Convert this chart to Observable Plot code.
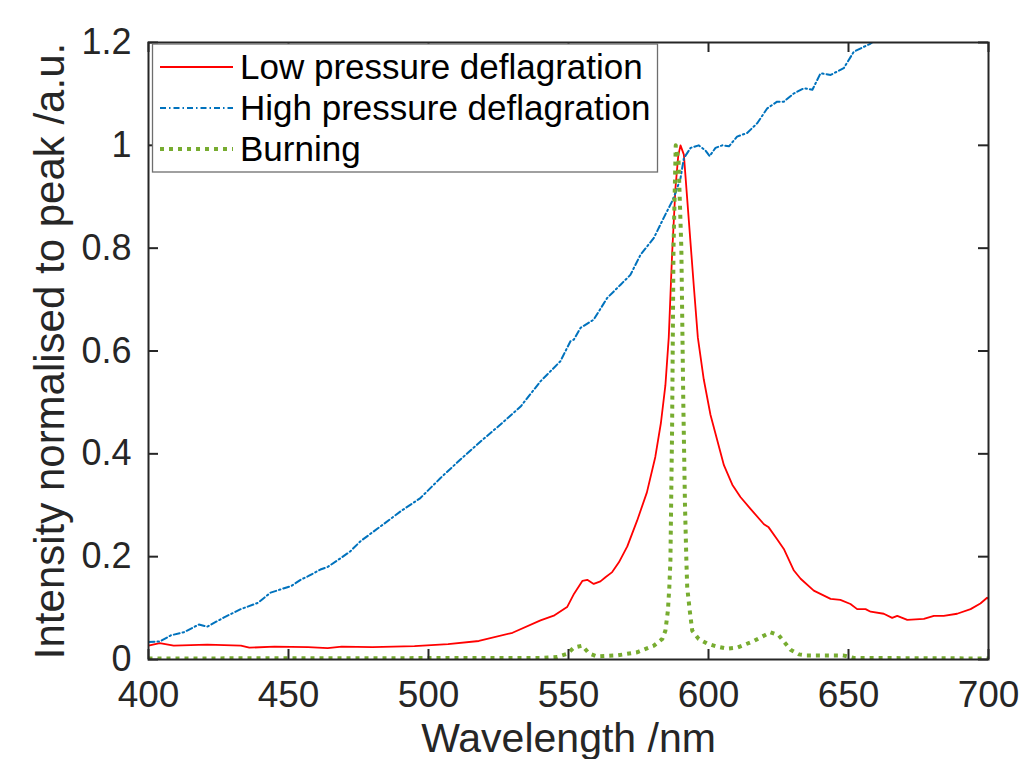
<!DOCTYPE html>
<html><head><meta charset="utf-8">
<script src="https://cdn.jsdelivr.net/npm/d3@7"></script>
<script src="https://cdn.jsdelivr.net/npm/@observablehq/plot@0.6"></script>
<style>body{margin:0;background:#fff;} #chart{position:relative;width:1021px;height:759px;}</style>
</head><body><div id="chart"></div>
<script>
// Low pressure deflagration
const lowX = [400,404,409,421,433,436,445,457,464,469,480,495,507,518,530,540,545,549.5,552,555,556.7,559,561.4,563.2,565.6,568,571,574.5,578,581,583,584.6,585.8,587,588.2,589.2,590,591.2,593,594.8,596.2,598.3,600.7,603.1,605.5,608.5,611.4,615,619.8,621.5,624.5,626.9,630.5,632.9,637.6,643.6,647.1,650.7,653.1,656.1,657.9,662.6,665.6,667.4,671,676.9,680.5,684,688.8,693.6,697.1,699.5,700];
const lowY = [0.027,0.032,0.027,0.029,0.027,0.023,0.025,0.024,0.022,0.025,0.024,0.026,0.030,0.036,0.052,0.076,0.086,0.102,0.128,0.153,0.155,0.147,0.152,0.160,0.170,0.189,0.220,0.270,0.325,0.394,0.460,0.533,0.626,0.788,0.917,0.980,1.000,0.982,0.852,0.723,0.626,0.545,0.476,0.427,0.378,0.340,0.316,0.293,0.263,0.257,0.234,0.215,0.173,0.157,0.134,0.118,0.116,0.108,0.098,0.098,0.093,0.089,0.081,0.085,0.077,0.079,0.085,0.085,0.089,0.098,0.109,0.120,0.118];
// High pressure deflagration
const highX = [400,404,408,412.6,418,421,427,433,439,443.6,447,451,454.3,457,461.4,464,468.6,472,475.7,482.9,490,497.1,504.3,511.4,518.6,525.7,532.9,540,547.1,550.7,551.9,554.3,559,563.8,568.6,572.1,575.7,580.5,584,587,588.2,590,591.2,593.6,596.5,598.9,600.4,602.5,604.9,607.3,610.2,613.8,617.4,621,624.5,626.9,630.5,634.1,637.1,640,643.6,648.3,651.9,657.9,662];
const highY = [0.034,0.035,0.047,0.053,0.068,0.064,0.082,0.098,0.110,0.130,0.136,0.143,0.155,0.162,0.175,0.180,0.197,0.210,0.230,0.259,0.288,0.314,0.353,0.389,0.424,0.457,0.492,0.541,0.580,0.619,0.622,0.645,0.661,0.703,0.729,0.748,0.787,0.820,0.859,0.891,0.907,0.936,0.975,0.995,1.000,0.990,0.979,0.995,1.000,0.998,1.017,1.024,1.043,1.072,1.085,1.085,1.101,1.111,1.108,1.140,1.137,1.150,1.182,1.198,1.215];
// Burning
const burnX = [400,540,546,549.5,551.9,554.9,557.3,560.2,567.4,574.5,580.5,583.5,584.6,585.5,586,586.4,587,587.5,588.3,589.3,590.3,591,591.6,592.1,592.4,593.3,594.2,596.5,599.5,603.1,606.7,610.2,616.2,622.1,625.1,629.3,632.3,635,648,652,700];
const burnY = [0.002,0.003,0.005,0.011,0.023,0.027,0.012,0.006,0.008,0.014,0.027,0.040,0.056,0.095,0.140,0.192,0.450,0.800,1.000,0.970,0.800,0.500,0.300,0.192,0.140,0.095,0.056,0.040,0.031,0.025,0.021,0.023,0.036,0.053,0.047,0.019,0.010,0.008,0.008,0.003,0.002];

const xTicks = [400,450,500,550,600,650,700];
const yTicks = [0,0.2,0.4,0.6,0.8,1,1.2];
const seriesNames = ["Low pressure deflagration","High pressure deflagration","Burning"];
const seriesColors = ["#FF0000","#0072BD","#77AC30"];
const xLabel = "Wavelength /nm";
const yLabel = "Intensity normalised to peak /a.u.";

const W = 1021, H = 759, mL = 148, mR = 33, mT = 42, mB = 100;
const plotH = H - mT - mB, plotW = W - mL - mR;
const axisColor = "#262626";
const font = "'Liberation Sans', Arial, Helvetica, sans-serif";
const rows = (xs, ys) => xs.map((x, i) => ({x, y: ys[i]}));
const blueDash = "6,3,1.5,3";

const chart = Plot.plot({
  width: W, height: H,
  marginLeft: mL, marginRight: mR, marginTop: mT, marginBottom: mB,
  style: {fontFamily: font, background: "white", color: axisColor, overflow: "visible"},
  x: {domain: [400, 700]},
  y: {domain: [0, 1.2]},
  marks: [
    Plot.line(rows(lowX, lowY), {x: "x", y: "y", stroke: seriesColors[0], strokeWidth: 1.8, clip: true}),
    Plot.line(rows(highX, highY), {x: "x", y: "y", stroke: seriesColors[1], strokeWidth: 2, strokeDasharray: blueDash, clip: true}),
    Plot.line(rows(burnX, burnY), {x: "x", y: "y", stroke: seriesColors[2], strokeWidth: 4, strokeDasharray: "4,5", strokeLinecap: "butt", clip: true}),
    Plot.frame({stroke: axisColor, strokeWidth: 2}),
    Plot.tickX(xTicks, {x: d => d, insetTop: plotH - 10, stroke: axisColor, strokeWidth: 2}),
    Plot.tickX(xTicks, {x: d => d, insetBottom: plotH - 10, stroke: axisColor, strokeWidth: 2}),
    Plot.tickY(yTicks, {y: d => d, insetRight: plotW - 10, stroke: axisColor, strokeWidth: 2}),
    Plot.tickY(yTicks, {y: d => d, insetLeft: plotW - 10, stroke: axisColor, strokeWidth: 2}),
    Plot.axisX(xTicks, {tickSize: 0, tickPadding: 21, fontSize: 37, label: null, tickFormat: d => String(d), fill: axisColor}),
    Plot.axisY(yTicks, {tickSize: 0, tickPadding: 17, fontSize: 36, label: null, tickFormat: d => String(+d.toFixed(1)), fill: axisColor}),
    Plot.text([xLabel], {text: d => d, frameAnchor: "bottom", lineAnchor: "middle", textAnchor: "middle", dy: 79, fontSize: 41, fill: axisColor}),
    Plot.text([yLabel], {text: d => d, frameAnchor: "left", textAnchor: "middle", lineAnchor: "middle", dx: -98, rotate: -90, fontSize: 42, fill: axisColor})
  ]
});
document.getElementById("chart").appendChild(chart);

// Legend
const svg = d3.select(chart);
const lg = svg.append("g").attr("font-family", font).attr("text-anchor", "start");
lg.append("rect").attr("x", 152.5).attr("y", 44).attr("width", 505).attr("height", 128)
  .attr("fill", "white").attr("stroke", "#6e6e6e").attr("stroke-width", 1.3);
const rowY = [67, 108, 149];
const lineStyles = [
  {w: 1.8, dash: null},
  {w: 2, dash: blueDash},
  {w: 4, dash: "4,5"}
];
seriesNames.forEach((name, i) => {
  const ln = lg.append("line").attr("x1", 160).attr("x2", 233).attr("y1", rowY[i]).attr("y2", rowY[i])
    .attr("stroke", seriesColors[i]).attr("stroke-width", lineStyles[i].w);
  if (lineStyles[i].dash) ln.attr("stroke-dasharray", lineStyles[i].dash);
  lg.append("text").attr("x", 240).attr("y", rowY[i]).attr("dy", "0.35em")
    .attr("text-anchor", "start").attr("font-size", 35).attr("fill", "#000").text(name);
});
</script>
</body></html>
